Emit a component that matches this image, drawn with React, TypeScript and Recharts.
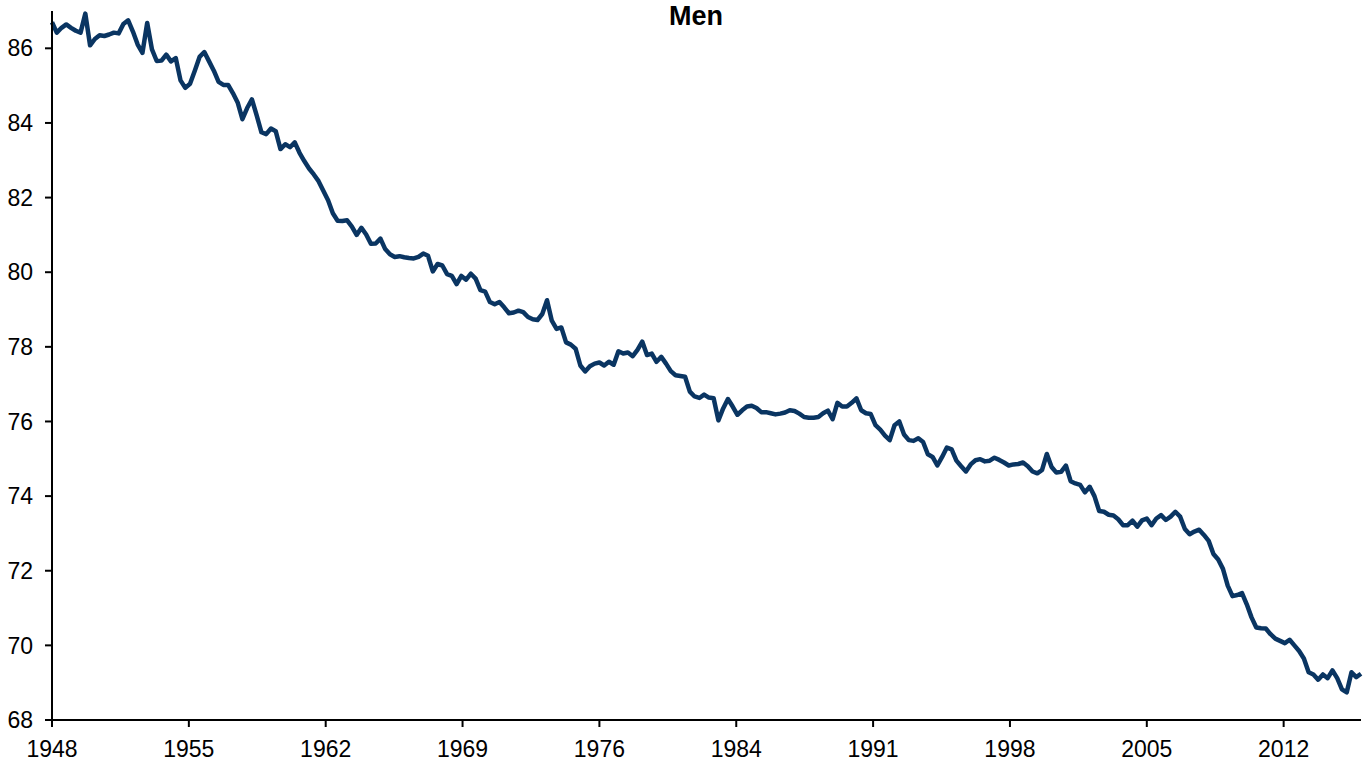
import React from "react";
import { LineChart, Line, XAxis, YAxis } from "recharts";

// quarterly participation rate, men, 1948Q1 onwards
const menRate = [
  86.70, 86.42, 86.55, 86.64, 86.55, 86.47, 86.42, 86.93, 86.08, 86.25,
  86.35, 86.33, 86.37, 86.42, 86.40, 86.65, 86.75, 86.45, 86.10, 85.88,
  86.68, 85.97, 85.66, 85.67, 85.83, 85.65, 85.74, 85.14, 84.94, 85.05,
  85.40, 85.77, 85.90, 85.65, 85.40, 85.10, 85.02, 85.02, 84.80, 84.55,
  84.10, 84.40, 84.63, 84.20, 83.75, 83.70, 83.85, 83.78,
  83.30, 83.43, 83.35, 83.48, 83.20, 82.98, 82.78, 82.62, 82.44, 82.18,
  81.93, 81.58, 81.38, 81.37, 81.39, 81.22, 81.00, 81.19, 81.01, 80.76,
  80.77, 80.90, 80.62, 80.48, 80.41, 80.43, 80.40, 80.38, 80.37, 80.41,
  80.50, 80.44, 80.02, 80.22, 80.18, 79.95, 79.90, 79.68, 79.90, 79.80,
  79.96, 79.83, 79.52, 79.48, 79.20, 79.14, 79.20, 79.06, 78.90, 78.92,
  78.97,
  78.93, 78.80, 78.74, 78.72, 78.88, 79.25, 78.70, 78.48, 78.52, 78.12,
  78.06, 77.95, 77.50, 77.34, 77.48, 77.55, 77.58, 77.50, 77.60, 77.52,
  77.88, 77.82, 77.85, 77.75, 77.92, 78.14, 77.78, 77.82, 77.60, 77.73,
  77.55, 77.35, 77.24, 77.22, 77.20, 76.80, 76.67, 76.63, 76.72, 76.64,
  76.62, 76.03, 76.35, 76.60, 76.40, 76.18, 76.30, 76.40, 76.42, 76.36,
  76.25, 76.25, 76.22, 76.19, 76.21, 76.24, 76.30, 76.28, 76.21, 76.12,
  76.10, 76.10, 76.12, 76.22, 76.29, 76.06, 76.50, 76.40, 76.40, 76.50,
  76.62, 76.30, 76.22, 76.20, 75.90, 75.78, 75.62, 75.50, 75.90, 76.00,
  75.65, 75.50, 75.48, 75.55, 75.45, 75.12, 75.05, 74.82, 75.05, 75.30,
  75.25, 74.95, 74.80, 74.66, 74.85, 74.96, 74.99, 74.93, 74.95, 75.03,
  74.97,
  74.90, 74.82, 74.85, 74.86, 74.90, 74.80, 74.66, 74.61, 74.70, 75.13,
  74.78, 74.63, 74.65, 74.82, 74.40, 74.34, 74.30, 74.10, 74.25, 74.00,
  73.60, 73.58, 73.50, 73.48, 73.38, 73.22, 73.22, 73.34, 73.18, 73.35,
  73.40, 73.22, 73.40, 73.49, 73.36, 73.45, 73.58, 73.45, 73.12, 72.98,
  73.05, 73.10, 72.96, 72.80, 72.45, 72.30, 72.05, 71.60, 71.32,
  71.35, 71.40, 71.10, 70.75, 70.48, 70.46, 70.45, 70.30, 70.18, 70.12,
  70.06, 70.15, 70.00, 69.85, 69.65, 69.28, 69.22, 69.08, 69.22, 69.12,
  69.33, 69.12, 68.82, 68.74, 69.28, 69.15, 69.24,
];

const START_YEAR = 1948;

// x ticks sit at quarter offsets, labelled with the year
const xTickPos = [0, 28.75, 57.5, 86.25, 115, 143.75, 172.5, 201.25, 230, 258.75];
const xTickLabels = ["1948", "1955", "1962", "1969", "1976", "1984", "1991", "1998", "2005", "2012"];

const yTicks = [68, 70, 72, 74, 76, 78, 80, 82, 84, 86];

const data = menRate.map((v, i) => ({
  i,
  quarter: `${START_YEAR + Math.floor(i / 4)}Q${(i % 4) + 1}`,
  men: v,
}));

const FONT = '"Liberation Sans", Arial, Helvetica, sans-serif';

export default function App() {
  return (
    <div style={{ position: "absolute", left: 0, top: 0, width: 1364, height: 765, background: "#fff", fontFamily: FONT }}>
      <div
        style={{
          position: "absolute",
          left: 0,
          width: 1392,
          top: 1,
          textAlign: "center",
          fontSize: 27,
          fontWeight: "bold",
          color: "#000",
        }}
      >
        Men
      </div>
      <LineChart
        width={1364}
        height={765}
        data={data}
        margin={{ top: 11, right: 3, bottom: 0, left: 0 }}
      >
        <XAxis
          dataKey="i"
          type="number"
          domain={[0, menRate.length - 1]}
          ticks={xTickPos}
          tickFormatter={(v: number) => xTickLabels[xTickPos.indexOf(v)] ?? ""}
          interval={0}
          height={45}
          axisLine={{ stroke: "#000", strokeWidth: 2 }}
          tickLine={{ stroke: "#000", strokeWidth: 2 }}
          tickSize={7}
          tickMargin={14}
          tick={{ fontSize: 23, fill: "#000", fontFamily: FONT }}
        />
        <YAxis
          domain={[68, 87]}
          ticks={yTicks}
          interval={0}
          width={52}
          axisLine={{ stroke: "#000", strokeWidth: 2 }}
          tickLine={{ stroke: "#000", strokeWidth: 2 }}
          tickSize={7}
          tickMargin={12}
          tick={{ fontSize: 23, fill: "#000", fontFamily: FONT }}
        />
        <Line
          type="linear"
          dataKey="men"
          stroke="#0a3562"
          strokeWidth={4.5}
          strokeLinejoin="round"
          dot={false}
          activeDot={false}
          isAnimationActive={false}
        />
      </LineChart>
    </div>
  );
}
